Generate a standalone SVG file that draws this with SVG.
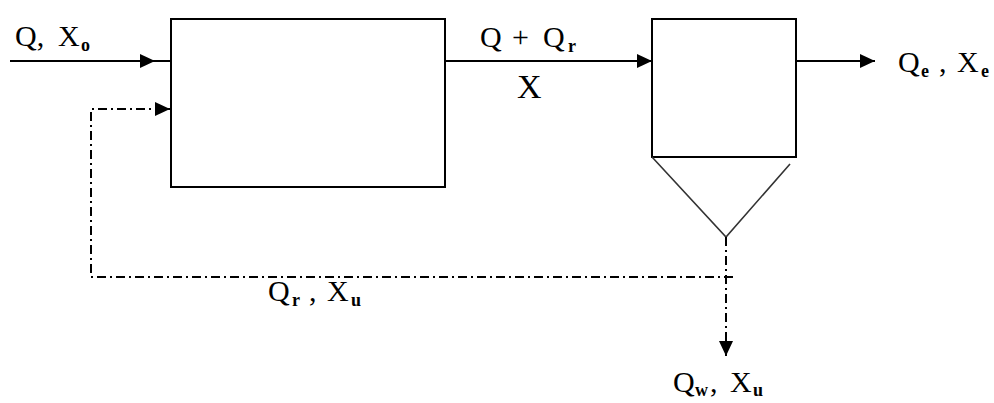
<svg xmlns="http://www.w3.org/2000/svg" width="994" height="403" viewBox="0 0 994 403">
<style>
.box{fill:#fff;stroke:#000;stroke-width:2}
.cone{fill:none;stroke:#333;stroke-width:1.6}
.flow{fill:none;stroke:#000;stroke-width:2}
.dash{fill:none;stroke:#000;stroke-width:2;stroke-dasharray:9 4 2 4}
text{font-family:"Liberation Serif","Times New Roman",serif;font-size:30px;fill:#000}
.sub{font-size:18px;font-weight:bold}
.big{font-size:34px}
</style>
<defs>
<marker id="arr" viewBox="0 0 15 14" refX="15" refY="7" markerWidth="15" markerHeight="14" markerUnits="userSpaceOnUse" orient="auto">
<path d="M0 0 L15 7 L0 14 Z" fill="#000"/>
</marker>
</defs>
<rect width="994" height="403" fill="#fff"/>
<g id="reactor"><rect class="box" x="171" y="19" width="274" height="168"/></g>
<g id="clarifier">
<rect class="box" x="652" y="19" width="144" height="138"/>
<polyline class="cone" points="652,157 726,237 790,164"/>
</g>
<g id="connectors">
<path class="flow" d="M10 61 H155" marker-end="url(#arr)"/>
<path class="flow" d="M155 61 H171"/>
<path class="flow" d="M445 61 H652" marker-end="url(#arr)"/>
<path class="flow" d="M796 61 H875" marker-end="url(#arr)"/>
<path class="dash" d="M726 237 V356" marker-end="url(#arr)"/>
<path class="dash" d="M733 277 H91 V109 H170" marker-end="url(#arr)"/>
</g>
<g id="labels">
<text y="46"><tspan x="15">Q,</tspan><tspan x="58">X</tspan><tspan x="81" dy="5" class="sub">o</tspan></text>
<text y="47"><tspan x="480">Q</tspan><tspan x="512">+</tspan><tspan x="543">Q</tspan><tspan x="568" dy="5" class="sub">r</tspan></text>
<text class="big" x="517" y="98">X</text>
<text y="72"><tspan x="898">Q</tspan><tspan x="921" dy="5" class="sub">e</tspan><tspan x="939" dy="-5">,</tspan><tspan x="957">X</tspan><tspan x="981" dy="5" class="sub">e</tspan></text>
<text y="301"><tspan x="268">Q</tspan><tspan x="292" dy="5" class="sub">r</tspan><tspan x="309" dy="-5">,</tspan><tspan x="327">X</tspan><tspan x="351" dy="5" class="sub">u</tspan></text>
<text y="392"><tspan x="673">Q</tspan><tspan x="695" dy="4" class="sub">w</tspan><tspan x="710" dy="-4">,</tspan><tspan x="730">X</tspan><tspan x="753" dy="4" class="sub">u</tspan></text>
</g>
</svg>
